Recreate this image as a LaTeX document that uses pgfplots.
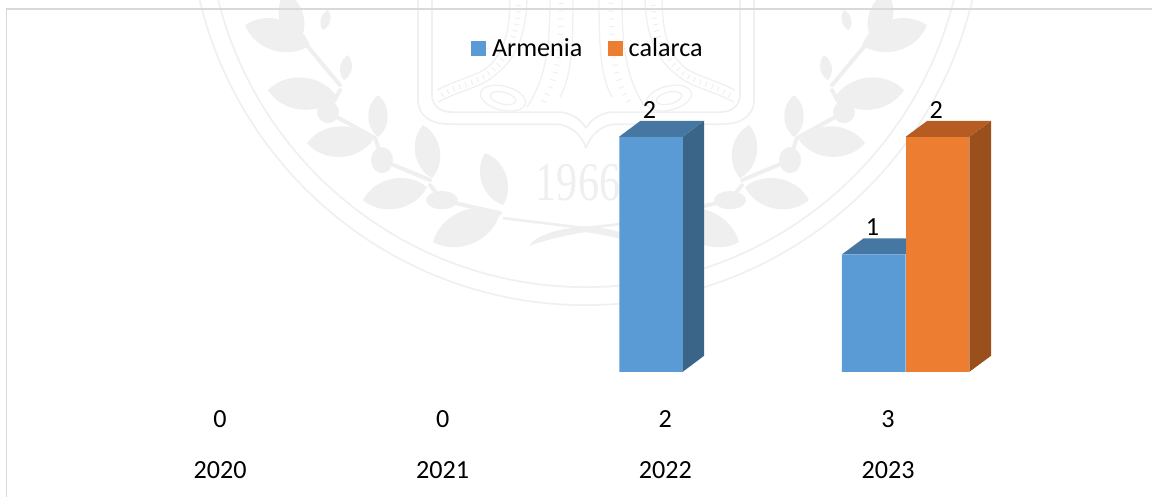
\documentclass[border=0pt]{standalone}
\usepackage{pgfplots}
\pgfplotsset{compat=1.18}
\usepackage{fontspec}
\setmainfont{Carlito}
\newfontfamily\wmfont{Liberation Serif}
\definecolor{blueF}{HTML}{5B9BD5}
\definecolor{blueT}{HTML}{4676A2}
\definecolor{blueS}{HTML}{3A6589}
\definecolor{orgF}{HTML}{ED7D31}
\definecolor{orgT}{HTML}{B65C22}
\definecolor{orgS}{HTML}{9A501D}
\definecolor{wm}{HTML}{EFEFEF}
\definecolor{wml}{HTML}{F0F0F0}
\definecolor{frame}{HTML}{D9D9D9}
\newcommand\leaf[4]{\fill[wm] (#1,#2) to[bend left=52] (#3,#4) to[bend left=52] (#1,#2);}
\newcommand\branch{%
  \draw[wm,line width=3,line cap=round] (500,213) -- (442,200) -- (430,185) (430,180) -- (382,160) -- (376,140) (375,138) -- (328,112) -- (340,90) (340,85) -- (305,43);
  \fill[wm] (442,200) ellipse[x radius=16,y radius=9];
  \fill[wm] (382,160) ellipse[x radius=11,y radius=13];
  \fill[wm] (328,112) ellipse[x radius=11,y radius=11];
  \leaf{503}{205}{485}{153}\leaf{433}{242}{500}{213}
  \leaf{432}{178}{423}{125}\leaf{363}{200}{427}{187}
  \leaf{378}{137}{378}{95}\leaf{307}{143}{373}{140}
  \leaf{344}{80}{348}{55}\leaf{268}{90}{337}{97}
  \leaf{323}{30}{328}{10}\leaf{245}{25}{310}{45}\leaf{298}{43}{285}{-8}
  \draw[wm,line width=2] (503,218) -- (586,228);
  \fill[wm] (586,226) .. controls (560,228) and (535,235) .. (529,246) .. controls (545,240) and (565,235) .. (586,232) -- cycle;
}
\newcommand\shield{%
  \draw[wml,line width=1.3] (418,-5) -- (418,100) .. controls (418,115) and (430,124) .. (450,124) -- (555,124) .. controls (570,124) and (582,135) .. (586,148);
  \draw[wml,line width=1.3] (432,-5) -- (432,95) .. controls (432,105) and (440,112) .. (452,112) -- (558,112) .. controls (570,112) and (580,118) .. (586,128);
  \draw[wml,line width=1] (437,90) .. controls (460,78) and (480,75) .. (490,65) .. controls (505,50) and (510,30) .. (510,-5);
  \draw[wml,line width=1] (438,102) .. controls (460,90) and (480,88) .. (495,75) .. controls (515,60) and (527,35) .. (527,-5);
  \draw[wml,line width=4,dash pattern=on 0.8 off 4] (442,95) .. controls (460,84) and (480,82) .. (493,70) .. controls (510,55) and (519,30) .. (519,-5);
  \draw[wml,line width=1] (550,-5) .. controls (550,40) and (548,75) .. (527,107);
  \draw[wml,line width=1] (573,-5) .. controls (573,45) and (572,75) .. (560,97);
  \draw[wml,line width=4,dash pattern=on 0.8 off 5] (561,-5) .. controls (561,40) and (560,75) .. (543,102);
  \draw[wml,line width=1,rotate around={-14:(503,98)}] (503,98) ellipse[x radius=23,y radius=12];
  \draw[wml,line width=1,rotate around={-14:(503,98)}] (503,98) ellipse[x radius=13,y radius=6];
}
\begin{document}
\begin{tikzpicture}
\begin{scope}[x=0.75pt,y=-0.75pt,shift={(0pt,278.775pt)}]
  \path[use as bounding box] (0,0) rectangle (1152,497);
  \begin{scope}
    \clip (0,0) rectangle (1152,497);
    % watermark seal
    \draw[wml,line width=1.3] (586,-92) circle[radius=397];
    \draw[wml,line width=1.3] (586,-92) circle[radius=379];
    \branch
    \shield
    \begin{scope}[xshift=1172*0.75pt,xscale=-1]\branch\shield\end{scope}
    \node[wm,font=\wmfont\fontsize{41}{41}\selectfont,xscale=0.77] at (578,183) {1966};
  \end{scope}
  % chart frame
  \draw[frame,line width=1.3pt] (6.6,497) -- (6.6,8.7) -- (1152,8.7);
\end{scope}
\begin{axis}[
  at={(0pt,0pt)}, anchor=south west,
  scale only axis, width=864pt, height=278.775pt,
  xmin=-0.988, xmax=4.1855, ymin=0, ymax=3.163,
  clip=false,
  axis line style={draw=none},
  ytick=\empty,
  xtick={0,1,2,3},
  xticklabels={{0\\2020},{0\\2021},{2\\2022},{3\\2023}},
  major tick length=0pt,
  xticklabel style={align=center,font=\fontsize{19.6}{38.2}\selectfont,inner sep=0pt,yshift=-28.5pt},
  legend columns=2,
  legend style={at={(0.5107,0.871)},anchor=center,draw=none,fill=none,font=\fontsize{19.6}{22}\selectfont,inner sep=0pt,
    /tikz/every even column/.append style={column sep=17.25pt}},
  legend image code/.code={\fill[#1] (0pt,-5.6pt) rectangle (11.25pt,5.6pt);\path (0pt,0pt) -- (13.5pt,0pt);},
]
% Armenia: depth faces (2022 value 2, 2023 value 1)
\addplot[fill=blueS,draw=none,forget plot] coordinates {(2.0776,0) (2.1737,0.1362) (2.1737,2.1362) (2.0776,2)} -- cycle;
\addplot[fill=blueT,draw=none,forget plot] coordinates {(1.7919,2) (1.8885,2.1362) (2.1737,2.1362) (2.0776,2)} -- cycle;
\addplot[fill=blueT,draw=none,forget plot] coordinates {(2.7934,1) (2.89,1.1362) (3.1765,1.1362) (3.0794,1)} -- cycle;
\addplot[ybar,fill=blueF,draw=none,bar width=47.7pt,bar shift=-10.7pt] coordinates {(2,2) (3,1)};
\addlegendentry{Armenia}
% calarca: depth faces (2023 value 2)
\addplot[fill=orgS,draw=none,forget plot] coordinates {(3.3651,0) (3.4625,0.1362) (3.4625,2.1362) (3.3651,2)} -- cycle;
\addplot[fill=orgT,draw=none,forget plot] coordinates {(3.0794,2) (3.176,2.1362) (3.4625,2.1362) (3.3651,2)} -- cycle;
\addplot[ybar,fill=orgF,draw=none,bar width=47.7pt,bar shift=37.1pt] coordinates {(3,2)};
\addlegendentry{calarca}
\node[font=\fontsize{19.6}{22}\selectfont] at (axis cs:1.9289,2.225) {2};
\node[font=\fontsize{19.6}{22}\selectfont] at (axis cs:2.93,1.23) {1};
\node[font=\fontsize{19.6}{22}\selectfont] at (axis cs:3.217,2.225) {2};
\end{axis}
\end{tikzpicture}
\end{document}
